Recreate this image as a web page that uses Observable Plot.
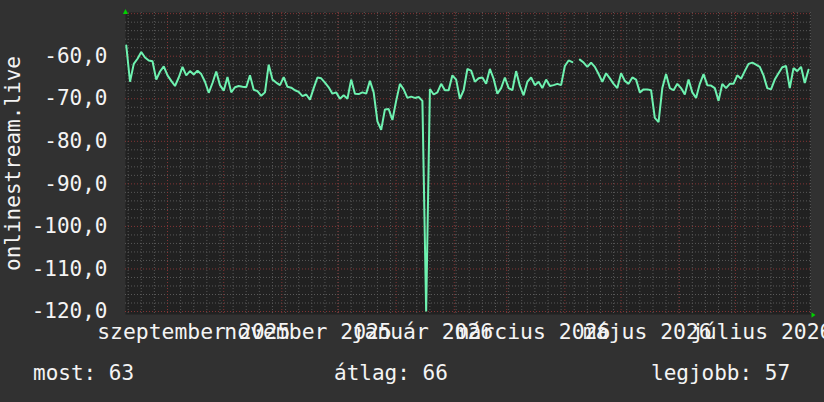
<!DOCTYPE html>
<html><head><meta charset="utf-8">
<script src="https://cdn.jsdelivr.net/npm/d3@7"></script>
<script src="https://cdn.jsdelivr.net/npm/@observablehq/plot@0.6"></script>
<style>
html,body{margin:0;padding:0;background:#313131;}
#chart{width:824px;height:402px;position:relative;overflow:hidden;font-family:"DejaVu Sans Mono",monospace;color:#f4f4f4;}
#chart svg{display:block;}
#legend{position:relative;height:50px;font-size:21px;line-height:21px;}
#legend span{position:absolute;top:11px;white-space:pre;}
</style></head><body>
<div id="chart"></div>
<script>
const seriesName = "onlinestream.live";
const startDate = "2025-08-10";
const stepDays = 2;
const values = [
  -57.5, -66, -61.8, -60.6, -59, -60.3, -61, -61.2, -65.5, -63.6,
  -62.4, -64.5, -65.8, -67, -65, -62.5, -64.5, -63.5, -64.3, -63.4,
  -64.2, -66, -68.6, -66.3, -63.6, -66.8, -68.1, -64.9, -68.5, -67.3,
  -67, -67.2, -67.3, -64.5, -67.9, -68.2, -69.3, -68.5, -62, -65.5,
  -66.2, -66.8, -64.9, -67.2, -67.4, -68, -68.4, -69.4, -69, -70.2,
  -67.5, -65, -65.2, -66.2, -67.3, -68.8, -68.5, -70, -69.2, -70,
  -65.5, -68.8, -68.9, -68.5, -68.8, -65.8, -68.5, -75.3, -77.3, -72.5,
  -72.4, -75, -70.5, -66.5, -67.8, -69.8, -69.5, -69.8, -69.6, -70.5,
  -120, -67.7, -69, -68.5, -66.5, -68, -68, -64.5, -65.5, -70,
  -68, -63, -63.4, -66, -65.2, -65, -66.5, -63, -65.3, -68.8,
  -67.5, -65, -67.5, -68, -63.5, -67, -69.2, -66, -65, -66.8,
  -66, -67.5, -65.5, -67, -66.8, -66.5, -66.8, -62.3, -61, -61.4,
  null, -60.8, -61.5, -62.5, -61.5, -62.5, -64.2, -66, -64, -65.2,
  -66.5, -67.5, -64, -65.8, -66.5, -65, -65.5, -68.5, -67.8, -67.8,
  -68, -74.5, -75.5, -67.5, -64.2, -67.5, -68, -66.5, -67.5, -69,
  -65.5, -68.5, -69.8, -66.5, -64.2, -66.8, -66.9, -67.5, -70.5, -66.5,
  -67.5, -66.5, -66.5, -64.5, -65.3, -63.5, -61.8, -61.5, -62, -62.5,
  -64.5, -67.5, -67.8, -65.5, -64, -62.6, -62.3, -67.5, -62.8, -63.5,
  -62.5, -66.3, -63.2
];
const xLabelDates = ["2025-09-15", "2025-11-15", "2026-01-15", "2026-03-15", "2026-05-15", "2026-07-15"];
const xLabels = ["szeptember 2025", "november 2025", "január 2026", "március 2026", "május 2026", "július 2026"];
const yTicks = [-120, -110, -100, -90, -80, -70, -60];
const legendLabels = ["most: 63", "átlag: 66", "legjobb: 57"];

const t0 = Date.parse(startDate);
const data = values.map((v, i) => ({date: new Date(t0 + i * stepDays * 864e5), value: v}));

const x0 = new Date(Date.UTC(2025, 7, 9, 14, 10));
const x1 = new Date(Date.UTC(2026, 7, 10, 1, 30));
const yMin = -120.7, yMax = -49.73;

const minorY = d3.range(-120, yMax, 2).filter(v => v % 10 !== 0);
const majorY = d3.range(-120, yMax, 10);
const minorX = d3.utcMonday.range(x0, x1);
const majorX = d3.utcMonth.range(x0, x1);

const upArrow = {draw(c) { c.moveTo(0, -3.5); c.lineTo(2.6, 1.5); c.lineTo(-2.6, 1.5); c.closePath(); }};
const rightArrow = {draw(c) { c.moveTo(5, 0.5); c.lineTo(1, -2.2); c.lineTo(1, 3.2); c.closePath(); }};

const gridMinor = {stroke: "#585858", strokeDasharray: "1,2", strokeWidth: 1};
const gridMajor = {stroke: "#843535", strokeDasharray: "1,2", strokeWidth: 1};

const chart = Plot.plot({
  width: 824, height: 352,
  marginLeft: 125, marginRight: 14, marginTop: 12, marginBottom: 38,
  style: {background: "#313131", color: "#f4f4f4", fontFamily: "'DejaVu Sans Mono', monospace", fontSize: "21px", overflow: "hidden"},
  x: {type: "utc", domain: [x0, x1]},
  y: {domain: [yMin, yMax]},
  marks: [
    Plot.frame({fill: "#212121", stroke: null}),
    Plot.ruleX(minorX, gridMinor),
    Plot.ruleY(minorY, gridMinor),
    Plot.ruleX(majorX, gridMajor),
    Plot.ruleY(majorY, gridMajor),
    Plot.line(data, {x: "date", y: "value", stroke: "#6ef2b0", strokeWidth: 2, strokeLinejoin: "miter"}),
    Plot.axisY({ticks: yTicks, tickFormat: d => d.toFixed(1).replace(".", ","), tickSize: 0, tickPadding: 18, label: null, fill: "#f4f4f4"}),
    Plot.axisX({ticks: xLabelDates.map(d => new Date(d)), tickFormat: (d, i) => xLabels[i], tickSize: 0, tickPadding: 9, label: null, fill: "#f4f4f4", fontSize: "21.4px"}),
    Plot.text([seriesName], {frameAnchor: "left", dx: -112, rotate: -90, textAnchor: "middle", fill: "#f4f4f4"}),
    Plot.dot([0], {frameAnchor: "top-left", symbol: upArrow, fill: "#00d000", stroke: "none"}),
    Plot.dot([0], {frameAnchor: "bottom-right", symbol: rightArrow, fill: "#00d000", stroke: "none"})
  ]
});

const root = document.getElementById("chart");
root.appendChild(chart);
const legend = document.createElement("div");
legend.id = "legend";
const lefts = [33, 334, 651];
legendLabels.forEach((t, i) => {
  const s = document.createElement("span");
  s.textContent = t;
  s.style.left = lefts[i] + "px";
  legend.appendChild(s);
});
root.appendChild(legend);
</script>
</body></html>
